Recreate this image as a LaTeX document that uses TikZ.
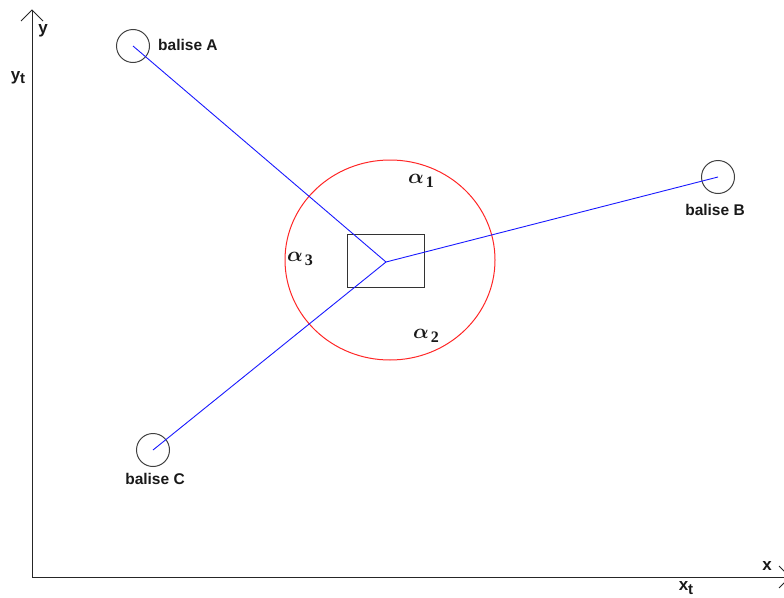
\documentclass[tikz,border=0pt]{standalone}
\usepackage{fontspec}
\usetikzlibrary{shapes.geometric}
\setmainfont{Liberation Sans}
\newfontfamily\serifdigits{Liberation Serif}
\newcommand{\alphalab}[1]{{\boldmath$\alpha$}\kern2pt\raisebox{-0.35ex}{\serifdigits\bfseries\fontsize{16}{18}\selectfont #1}}
\begin{document}
\begin{tikzpicture}[x=1pt,y=-1pt,
  balise/.style={circle,draw=black!75,line width=1pt,minimum size=33pt,inner sep=0pt},
  lbl/.style={font=\fontsize{15.5}{18}\selectfont\bfseries,text=black!90,inner sep=0pt},
  alab/.style={font=\fontsize{21}{24}\selectfont,inner sep=0pt,text=black!90},
  axis/.style={line width=1pt,black!85},
  ray/.style={blue!90!white,line width=0.9pt}]
\useasboundingbox (0,0) rectangle (784,597);
\clip (0,0) rectangle (784,597);
% axes
\coordinate (O) at (32,577);
\coordinate (Ytip) at (32,10);
\coordinate (Xtip) at (790,577);
\draw[axis] (O) -- (Ytip);
\draw[axis] (O) -- (Xtip);
\draw[axis] (21,21) -- (Ytip) -- (43,21);
\draw[axis] (779,566) -- (Xtip) -- (779,588);
\node[lbl,anchor=center] (ylab) at (43,31) {\fontsize{17}{18}\selectfont y};
\node[lbl,anchor=center] (ytlab) at (18,78) {\fontsize{17}{18}\selectfont y\raisebox{-0.35ex}{\fontsize{15}{18}\selectfont t}};
\node[lbl,anchor=center] (xlab) at (767,566) {\fontsize{17}{18}\selectfont x};
\node[lbl,anchor=center] (xtlab) at (686,588) {\fontsize{17}{18}\selectfont x\raisebox{-0.35ex}{\fontsize{15}{18}\selectfont t}};
% red circle and rectangle
\node[draw=red!85!white,line width=1pt,ellipse,minimum width=210pt,minimum height=200pt,inner sep=0pt] (E) at (390,260) {};
\node[draw=black!80,line width=1pt,minimum width=77pt,minimum height=53pt,inner sep=0pt] (R) at (385.5,260.5) {};
% balises
\node[balise] (A) at (133,46) {};
\node[balise] (B) at (718,177) {};
\node[balise] (C) at (153,450) {};
\coordinate (P) at (386,262);
\draw[ray] (P) -- (A.center);
\draw[ray] (P) -- (B.center);
\draw[ray] (P) -- (C.center);
\node[lbl,anchor=west] (la) at (158,45) {balise A};
\node[lbl] (lb) at (715,210) {balise B};
\node[lbl] (lc) at (155,479) {balise C};
% angles
\node[alab] (a1) at (421,181) {\alphalab{1}};
\node[alab] (a2) at (426,336) {\alphalab{2}};
\node[alab] (a3) at (300,259) {\alphalab{3}};
\end{tikzpicture}
\end{document}
